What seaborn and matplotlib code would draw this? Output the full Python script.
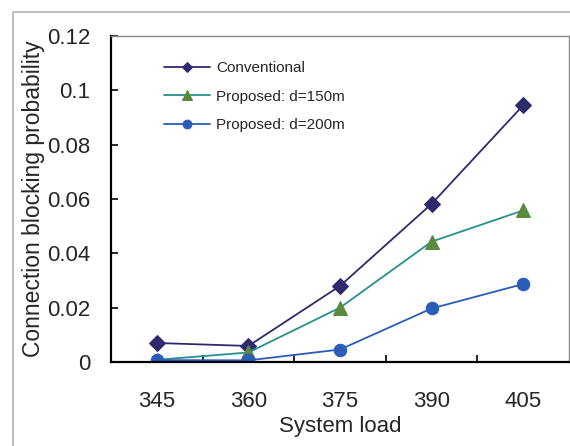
import matplotlib
matplotlib.use("Agg")
import matplotlib.pyplot as plt
from matplotlib.lines import Line2D
from matplotlib.ticker import FixedLocator
import seaborn as sns
import pandas as pd

# data
loads = ["345", "360", "375", "390", "405"]
conventional = [0.0070, 0.0059, 0.0280, 0.0582, 0.0945]
proposed_150 = [0.0008, 0.0035, 0.0200, 0.0443, 0.0558]
proposed_200 = [0.0007, 0.0006, 0.0046, 0.0197, 0.0287]
y_ticks = [0, 0.02, 0.04, 0.06, 0.08, 0.1, 0.12]
y_tick_labels = ["0", "0.02", "0.04", "0.06", "0.08", "0.1", "0.12"]

sns.set_style("white")
plt.rcParams["font.family"] = ["Liberation Sans", "DejaVu Sans"]

df = pd.DataFrame({"load": loads, "conv": conventional,
                   "p150": proposed_150, "p200": proposed_200})

fig = plt.figure(figsize=(5.7, 4.46), dpi=100)
ax = fig.add_axes([111 / 570, 1 - 362 / 446, 458 / 570, 326 / 446])

sns.lineplot(data=df, x="load", y="conv", ax=ax, color="#2f2a6e", lw=1.3,
             marker="D", markersize=8, markerfacecolor="#2f2a6e",
             markeredgecolor="#2f2a6e", label="Conventional")
sns.lineplot(data=df, x="load", y="p150", ax=ax, color="#27908e", lw=1.3,
             marker="^", markersize=10, markerfacecolor="#5a8a3c",
             markeredgecolor="#5a8a3c", label="Proposed: d=150m")
sns.lineplot(data=df, x="load", y="p200", ax=ax, color="#2b5cb8", lw=1.3,
             marker="o", markersize=9, markerfacecolor="#2b5cb8",
             markeredgecolor="#2b5cb8", label="Proposed: d=200m")

ax.set_xlim(-0.5, 4.5)
ax.set_ylim(0, 0.12)
ax.set_yticks(y_ticks)
ax.set_yticklabels(y_tick_labels)
ax.xaxis.set_minor_locator(FixedLocator([0.5, 1.5, 2.5, 3.5]))
ax.tick_params(axis="x", which="major", length=0, pad=21, labelsize=16)
ax.tick_params(axis="x", which="minor", direction="in", length=5, width=1.2,
               bottom=True, color="black")
ax.tick_params(axis="y", direction="in", length=5, width=1.2, left=True,
               pad=15, labelsize=16, color="black")

ax.set_xlabel("System load", fontsize=16, labelpad=3)
ax.set_ylabel("Connection blocking probability", fontsize=16.5, labelpad=1)

for s in ["left", "bottom"]:
    ax.spines[s].set_color("black")
    ax.spines[s].set_linewidth(1.6)
for s in ["top", "right"]:
    ax.spines[s].set_color("#8a8a8a")
    ax.spines[s].set_linewidth(1.0)

ax.legend(loc="upper left", bbox_to_anchor=(0.085, 0.965), frameon=False,
          fontsize=11, handlelength=3.0, labelspacing=0.95, handletextpad=0.45,
          markerscale=0.7)

# outer chart-area border (left and top edges visible)
fig.add_artist(Line2D([13 / 570, 13 / 570], [0, 1 - 12 / 446],
                      transform=fig.transFigure, color="#c0c0c0", lw=1.5))
fig.add_artist(Line2D([13 / 570, 1], [1 - 12 / 446, 1 - 12 / 446],
                      transform=fig.transFigure, color="#c0c0c0", lw=1.5))

fig.savefig("out.png", dpi=100)
